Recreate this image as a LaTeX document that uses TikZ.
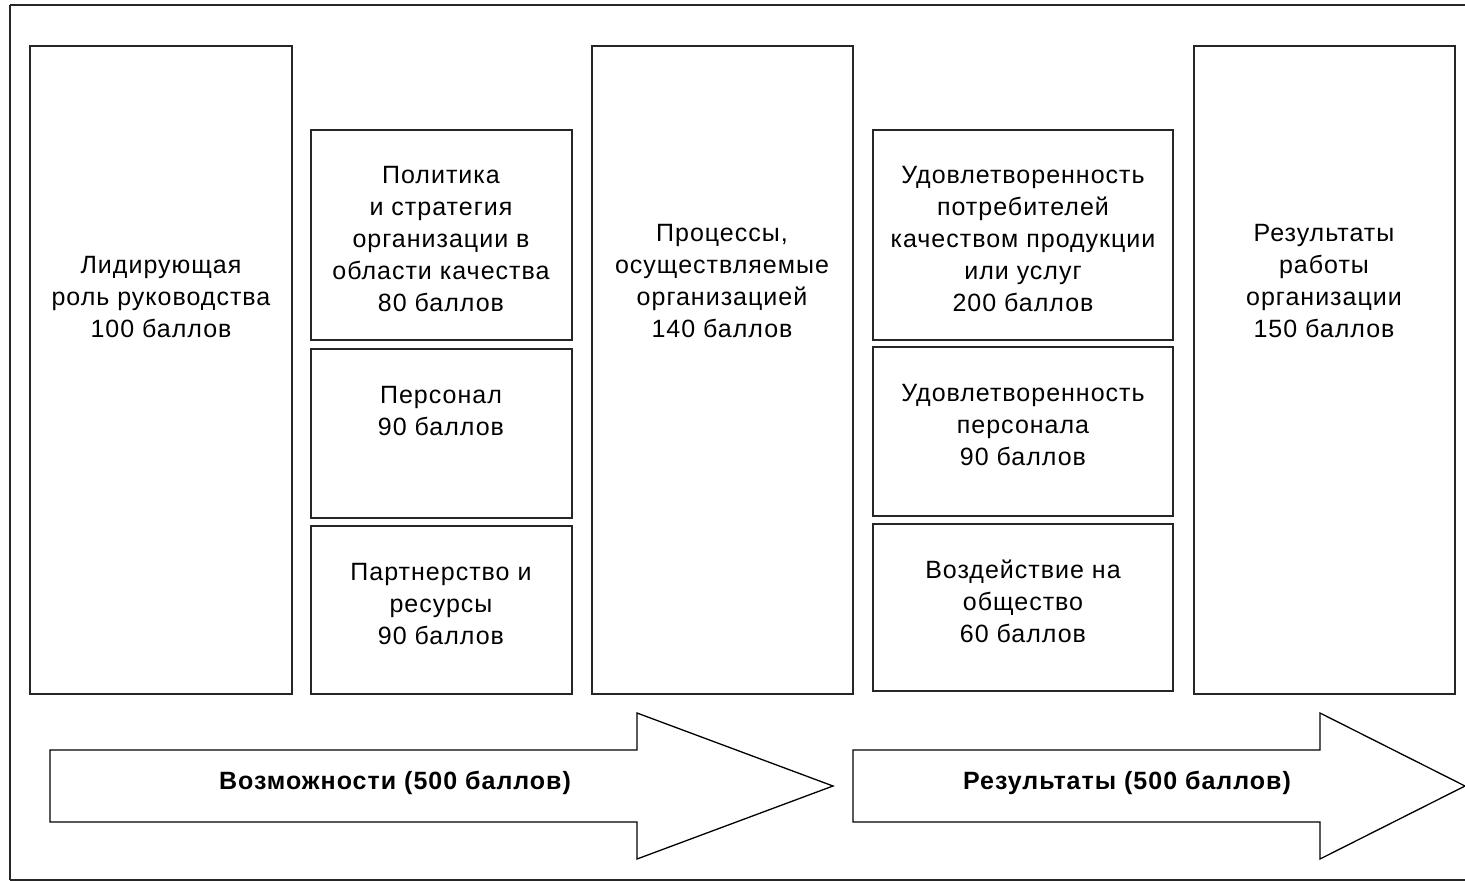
\documentclass[tikz,border=0pt]{standalone}
\usepackage{fontspec}
\setmainfont{Liberation Sans}[LetterSpace=4]
\begin{document}
\begin{tikzpicture}[x=1pt,y=-1pt,
  box/.style={draw=black!85,line width=1.4pt},
  txt/.style={align=center,font=\fontsize{25}{32}\selectfont,inner sep=0pt},
  btxt/.style={font=\fontsize{25}{30}\selectfont\bfseries,inner sep=0pt},
  arr/.style={draw=black,line width=1.3pt,fill=white}]
\useasboundingbox (0,0) rectangle (1465,881);
% frame
\draw[line width=1.4pt,black!85] (10,880) -- (10,5);
\draw[line width=2.6pt,black!85] (10,5) -- (1465,5);
\draw[line width=1.4pt,black!85] (10,880) -- (1465,880);
% boxes
\draw[box] (30,46) rectangle (292,694);
\draw[box] (311,130) rectangle (572,340);
\draw[box] (311,349) rectangle (572,518);
\draw[box] (311,526) rectangle (572,694);
\draw[box] (592,46) rectangle (853,694);
\draw[box] (873,130) rectangle (1173,340);
\draw[box] (873,347) rectangle (1173,516);
\draw[box] (873,524) rectangle (1173,691);
\draw[box] (1194,46) rectangle (1455,694);
% texts
\node[txt] (t1) at (161,297) {Лидирующая\\роль руководства\\100 баллов};
\node[txt] (t2) at (441,239) {Политика\\и стратегия\\организации в\\области качества\\80 баллов};
\node[txt] (t3) at (441,411) {Персонал\\90 баллов};
\node[txt] (t4) at (441,604) {Партнерство и\\ресурсы\\90 баллов};
\node[txt] (t5) at (722,281) {Процессы,\\осуществляемые\\организацией\\140 баллов};
\node[txt] (t6) at (1023,239) {Удовлетворенность\\потребителей\\качеством продукции\\или услуг\\200 баллов};
\node[txt] (t7) at (1023,425) {Удовлетворенность\\персонала\\90 баллов};
\node[txt] (t8) at (1023,601) {Воздействие на\\общество\\60 баллов};
\node[txt] (t9) at (1324,281) {Результаты\\работы\\организации\\150 баллов};
% arrows
\draw[arr] (50,750) -- (637,750) -- (637,713) -- (833,786) -- (637,859) -- (637,822) -- (50,822) -- cycle;
\draw[arr] (853,750) -- (1320,750) -- (1320,713) -- (1465,786) -- (1320,859) -- (1320,822) -- (853,822) -- cycle;
\node[btxt] (a1) at (395,783) {Возможности (500 баллов)};
\node[btxt] (a2) at (1127,783) {Результаты (500 баллов)};
\end{tikzpicture}
\end{document}
